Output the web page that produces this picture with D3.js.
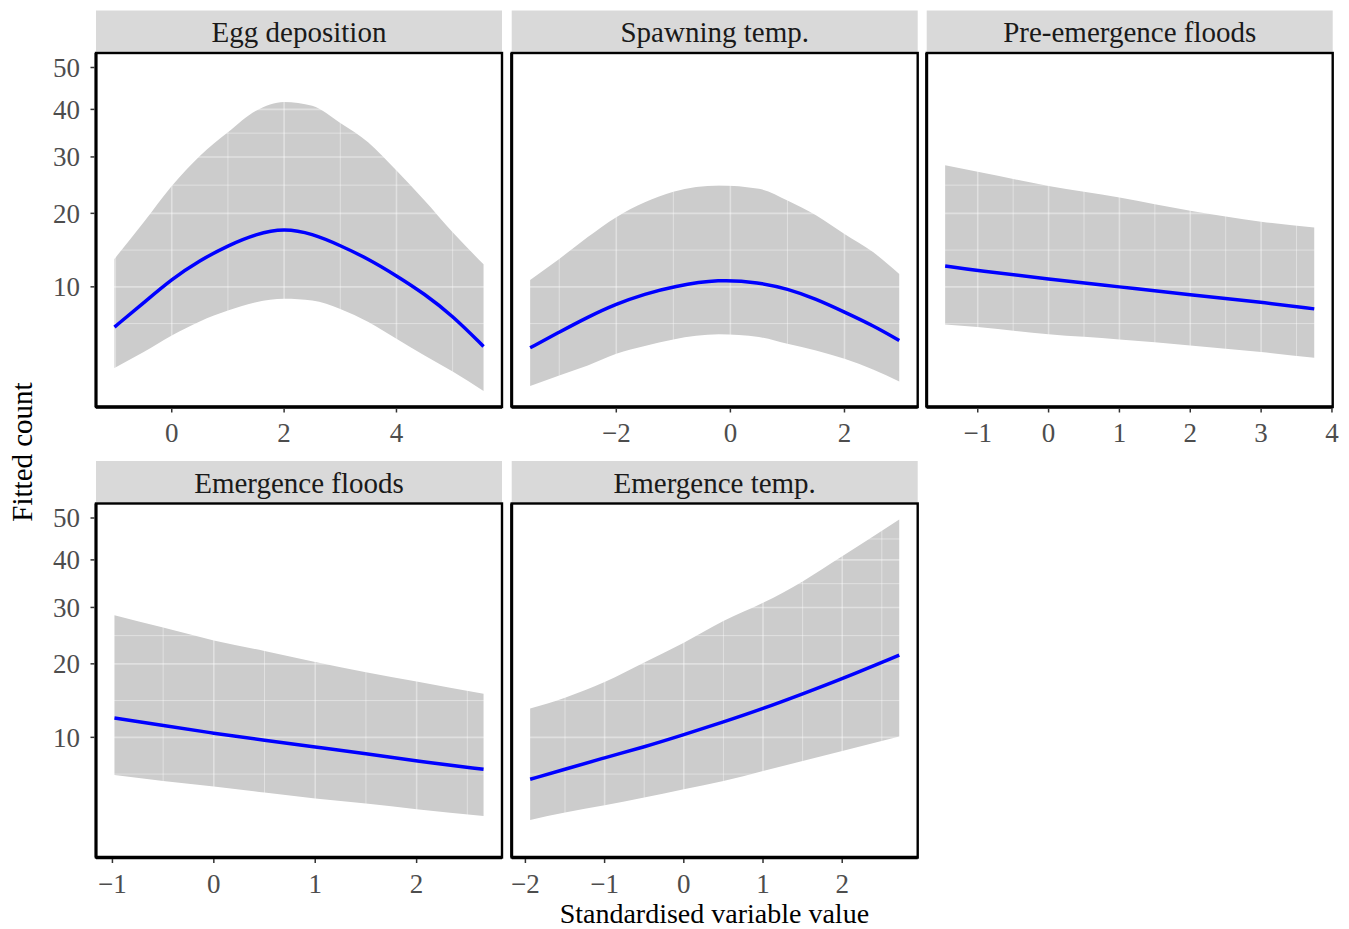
<!DOCTYPE html>
<html lang="en">
<head>
<meta charset="UTF-8">
<title>Fitted count by standardised variable</title>
<script src="https://cdn.jsdelivr.net/npm/d3@7"></script>
<style>
  body { margin: 0; background: #fff; font-family: "Liberation Serif", "Times New Roman", serif; }
  .strip text { font-size: 29px; fill: #1a1a1a; }
  .tick-label { font-size: 27px; fill: #4d4d4d; }
  .title { font-size: 29px; fill: #000; }
  .xtitle { font-size: 28px; fill: #000; }
</style>
</head>
<body>
<script>
// values (fitted count, lower / upper band)
var eggX   = [-1.02, -0.5, 0, 0.5, 1, 1.5, 2, 2.5, 3, 3.5, 4, 4.5, 5, 5.55];
var eggFit = [5.98, 8.28, 10.9, 13.2, 15.2, 16.85, 17.7, 16.9, 15.2, 13.4, 11.3, 9.22, 7.0, 4.41];
var eggLo  = [2.94, 4.0, 5.27, 6.48, 7.5, 8.35, 8.69, 8.51, 7.67, 6.42, 5.0, 3.76, 2.74, 1.71];
var eggHi  = [13.4, 18.6, 24.6, 30.2, 35.0, 39.7, 41.7, 40.8, 37.0, 32.9, 27.4, 22.1, 17.1, 12.7];

var spawnX   = [-3.51, -3, -2.5, -2, -1.5, -1, -0.2, 0.5, 1, 1.5, 2, 2.5, 2.96];
var spawnFit = [4.31, 5.55, 6.89, 8.18, 9.22, 10.05, 10.9, 10.5, 9.78, 8.69, 7.36, 6.12, 4.87];
var spawnLo  = [1.95, 2.51, 3.1, 3.88, 4.44, 4.95, 5.36, 5.14, 4.61, 4.12, 3.54, 2.86, 2.18];
var spawnHi  = [10.8, 13.4, 16.4, 19.4, 21.8, 23.6, 24.7, 24.1, 22.1, 19.7, 16.85, 14.3, 11.5];

var preX   = [-1.46, -1, 0, 1, 2, 3, 3.75];
var preFit = [12.5, 11.9, 10.9, 10.0, 9.12, 8.35, 7.67];
var preLo  = [6.2, 5.98, 5.36, 4.95, 4.49, 4.0, 3.6];
var preHi  = [28.4, 27.2, 24.6, 22.6, 20.4, 18.7, 17.8];

var emfX   = [-0.98, -0.5, 0, 0.5, 1, 1.5, 2, 2.66];
var emfFit = [12.3, 11.4, 10.45, 9.67, 8.94, 8.25, 7.51, 6.72];
var emfLo  = [6.2, 5.68, 5.22, 4.74, 4.29, 3.93, 3.54, 3.1];
var emfHi  = [28.5, 26.2, 23.9, 22.1, 20.3, 18.7, 17.3, 15.5];

var emtX   = [-1.94, -1.5, -1, -0.5, 0, 0.5, 1, 1.5, 2, 2.72];
var emtFit = [5.83, 6.72, 7.84, 8.94, 10.3, 11.8, 13.5, 15.5, 17.7, 21.4];
var emtLo  = [2.86, 3.32, 3.81, 4.36, 5.0, 5.68, 6.57, 7.51, 8.51, 10.1];
var emtHi  = [13.5, 14.96, 17.2, 20.2, 23.5, 27.4, 30.9, 35.3, 40.8, 49.6];

var yTicks = [10, 20, 30, 40, 50];

var panels = [
  {title: 'Egg deposition', x: eggX, fit: eggFit, lo: eggLo, hi: eggHi, ticks: [0, 2, 4], col: 0, row: 0},
  {title: 'Spawning temp.', x: spawnX, fit: spawnFit, lo: spawnLo, hi: spawnHi, ticks: [-2, 0, 2], col: 1, row: 0},
  {title: 'Pre-emergence floods', x: preX, fit: preFit, lo: preLo, hi: preHi, ticks: [-1, 0, 1, 2, 3, 4], col: 2, row: 0},
  {title: 'Emergence floods', x: emfX, fit: emfFit, lo: emfLo, hi: emfHi, ticks: [-1, 0, 1, 2], col: 0, row: 1},
  {title: 'Emergence temp.', x: emtX, fit: emtFit, lo: emtLo, hi: emtHi, ticks: [-2, -1, 0, 1, 2], col: 1, row: 1}
];

var W = 1349, H = 929;
var colLeft = [96, 511.7, 926.7], panelW = 406;
var rowTop = [53, 503.5], panelH = 354, stripH = 42.5;

var fmt = v => (v < 0 ? '\u2212' + Math.abs(v) : '' + v);

var svg = d3.select('body').append('svg').attr('width', W).attr('height', H);

// shared sqrt y scale, 5% expansion in transformed space
var allY = [];
panels.forEach(p => { allY = allY.concat(p.lo, p.hi); });
var s0 = Math.sqrt(d3.min(allY)), s1 = Math.sqrt(d3.max(allY));
var pad = (s1 - s0) * 0.05;
var y = d3.scaleSqrt().domain([Math.pow(s0 - pad, 2), Math.pow(s1 + pad, 2)]).range([panelH, 0]);

// minor breaks at midpoints in sqrt space
var sq = yTicks.map(Math.sqrt);
var yMinor = [sq[0] - (sq[1] - sq[0]) / 2];
for (var i = 0; i < sq.length - 1; i++) yMinor.push((sq[i] + sq[i + 1]) / 2);
yMinor.push(sq[sq.length - 1] + (sq[sq.length - 1] - sq[sq.length - 2]) / 2);
yMinor = yMinor.map(s => s * s).filter(v => v > y.domain()[0] && v < y.domain()[1]);

panels.forEach(p => {
  var ext = d3.extent(p.x), xp = (ext[1] - ext[0]) * 0.05;
  var x = d3.scaleLinear().domain([ext[0] - xp, ext[1] + xp]).range([0, panelW]);
  var step = p.ticks[1] - p.ticks[0];
  var xMinor = p.ticks.map(t => t - step / 2).concat([p.ticks[p.ticks.length - 1] + step / 2])
    .filter(v => v > x.domain()[0] && v < x.domain()[1]);

  var left = colLeft[p.col], top = rowTop[p.row];

  var strip = svg.append('g').attr('class', 'strip')
    .attr('transform', 'translate(' + left + ',' + (top - stripH) + ')');
  strip.append('rect').attr('width', panelW).attr('height', stripH).attr('fill', '#d9d9d9');
  strip.append('text').attr('x', panelW / 2).attr('y', 31.5).attr('text-anchor', 'middle').text(p.title);

  var g = svg.append('g').attr('transform', 'translate(' + left + ',' + top + ')');
  g.append('rect').attr('width', panelW).attr('height', panelH).attr('fill', '#fff');

  var idx = d3.range(p.x.length);
  g.append('path')
    .attr('d', d3.area().x(i => x(p.x[i])).y0(i => y(p.lo[i])).y1(i => y(p.hi[i])).curve(d3.curveMonotoneX)(idx))
    .attr('fill', '#cccccc');

  // grid lines: white, only show through the band
  var grid = g.append('g').attr('stroke', '#fff').attr('stroke-opacity', 0.4);
  grid.selectAll('.ymaj').data(yTicks).enter().append('line')
    .attr('x1', 0).attr('x2', panelW).attr('y1', d => y(d)).attr('y2', d => y(d)).attr('stroke-width', 1.6);
  grid.selectAll('.ymin').data(yMinor).enter().append('line')
    .attr('x1', 0).attr('x2', panelW).attr('y1', d => y(d)).attr('y2', d => y(d)).attr('stroke-width', 1);
  grid.selectAll('.xmaj').data(p.ticks).enter().append('line')
    .attr('y1', 0).attr('y2', panelH).attr('x1', d => x(d)).attr('x2', d => x(d)).attr('stroke-width', 1.6);
  grid.selectAll('.xmin').data(xMinor).enter().append('line')
    .attr('y1', 0).attr('y2', panelH).attr('x1', d => x(d)).attr('x2', d => x(d)).attr('stroke-width', 1);

  g.append('path')
    .attr('d', d3.line().x(i => x(p.x[i])).y(i => y(p.fit[i])).curve(d3.curveBasis)(idx))
    .attr('fill', 'none').attr('stroke', '#0000ff').attr('stroke-width', 3.5);

  g.append('rect').attr('width', panelW).attr('height', panelH)
    .attr('fill', 'none').attr('stroke', '#000').attr('stroke-width', 2.4);
  g.append('line').attr('x1', 0).attr('x2', panelW).attr('y1', panelH).attr('y2', panelH)
    .attr('stroke', '#000').attr('stroke-width', 3.4);
  g.append('line').attr('x1', 0).attr('x2', 0).attr('y1', 0).attr('y2', panelH)
    .attr('stroke', '#000').attr('stroke-width', 3);

  // x ticks
  var xt = g.selectAll('.xt').data(p.ticks).enter().append('g')
    .attr('transform', d => 'translate(' + x(d) + ',' + panelH + ')');
  xt.append('line').attr('y1', 1.5).attr('y2', 5.5).attr('stroke', '#333').attr('stroke-width', 1.5);
  xt.append('text').attr('class', 'tick-label').attr('y', 35).attr('text-anchor', 'middle').text(fmt);

  // y ticks only on first column
  if (p.col === 0) {
    var yt = g.selectAll('.yt').data(yTicks).enter().append('g')
      .attr('transform', d => 'translate(0,' + y(d) + ')');
    yt.append('line').attr('x1', -1.5).attr('x2', -5.5).attr('stroke', '#333').attr('stroke-width', 1.5);
    yt.append('text').attr('class', 'tick-label').attr('x', -16).attr('dy', '0.35em')
      .attr('text-anchor', 'end').text(d => d);
  }
});

svg.append('text').attr('class', 'title')
  .attr('transform', 'translate(32,452) rotate(-90)')
  .attr('text-anchor', 'middle').text('Fitted count');

svg.append('text').attr('class', 'xtitle')
  .attr('x', (colLeft[0] + colLeft[2] + panelW) / 2).attr('y', 922.5)
  .attr('text-anchor', 'middle').text('Standardised variable value');
</script>
</body>
</html>
